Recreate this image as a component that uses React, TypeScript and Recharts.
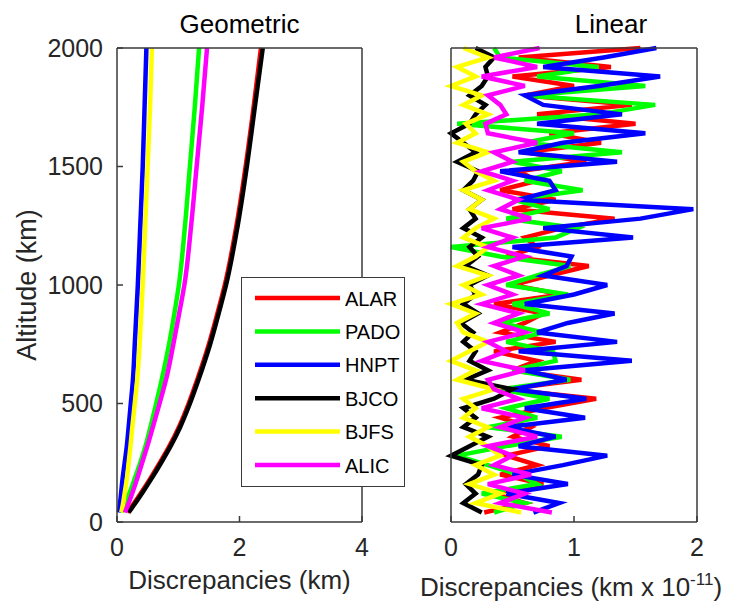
import React from 'react';
import { LineChart, Line, XAxis, YAxis, Legend, Label } from 'recharts';

const stations = ['ALAR', 'PADO', 'HNPT', 'BJCO', 'BJFS', 'ALIC'];
const stationColors = ['#ff0000', '#00ff00', '#0000ff', '#000000', '#ffff00', '#ff00ff'];

// Geometric panel (km)
const geoAltitudes = [40, 80, 130, 180, 250, 320, 400, 500, 600, 750, 900, 1000, 1250, 1500, 1750, 2000];
const geoALAR = [0.17, 0.28, 0.41, 0.535, 0.70, 0.855, 1.01, 1.17, 1.31, 1.50, 1.66, 1.76, 1.95, 2.10, 2.23, 2.35];
const geoPADO = [0.08, 0.14, 0.215, 0.285, 0.38, 0.465, 0.545, 0.64, 0.73, 0.85, 0.95, 1.01, 1.11, 1.19, 1.27, 1.34];
const geoHNPT = [0.03, 0.05, 0.07, 0.09, 0.125, 0.16, 0.19, 0.225, 0.26, 0.29, 0.32, 0.34, 0.38, 0.42, 0.45, 0.48];
const geoBJCO = [0.19, 0.30, 0.43, 0.555, 0.72, 0.875, 1.03, 1.19, 1.33, 1.52, 1.68, 1.78, 1.97, 2.12, 2.25, 2.38];
const geoBJFS = [0.07, 0.1, 0.13, 0.16, 0.19, 0.22, 0.25, 0.29, 0.33, 0.37, 0.4, 0.42, 0.46, 0.5, 0.54, 0.57];
const geoALIC = [0.13, 0.19, 0.26, 0.325, 0.41, 0.495, 0.585, 0.695, 0.8, 0.92, 1.03, 1.1, 1.21, 1.3, 1.39, 1.47];

// Linear panel (km x 1e-11)
const linAltitudes = [
  40, 80, 120, 160, 200, 240, 280, 320, 360, 400,
  440, 480, 520, 560, 600, 640, 680, 720, 760, 800,
  840, 880, 920, 960, 1000, 1040, 1080, 1120, 1160, 1200,
  1240, 1280, 1320, 1360, 1400, 1440, 1480, 1520, 1560, 1600,
  1640, 1680, 1720, 1760, 1800, 1840, 1880, 1920, 1960, 2000,
];
const linALAR = [
  0.27, 0.6, 0.35, 0.75, 0.4, 0.7, 0.45, 0.8, 0.5, 0.65,
  0.4, 0.75, 1.18, 0.45, 1.06, 0.5, 0.7, 0.35, 0.85, 0.4,
  0.6, 0.75, 0.35, 0.9, 0.5, 0.8, 1.12, 0.45, 0.7, 0.6,
  0.9, 1.33, 0.5, 0.85, 0.4, 0.7, 0.55, 1.1, 0.6, 1.22,
  0.8, 1.5, 0.7, 1.47, 0.6, 1.0, 0.5, 1.3, 0.55, 1.54,
];
const linPADO = [
  0.35, 0.6, 0.25, 0.7, 0.55, 0.3, 0.05, 0.45, 0.9, 0.3,
  0.7, 0.45, 0.8, 0.4, 0.97, 0.5, 0.85, 0.83, 0.45, 0.75,
  0.4, 0.8, 0.5, 0.95, 0.45, 0.7, 0.97, 0.4, 0.0, 0.85,
  1.03, 0.45, 0.8, 0.5, 1.07, 0.6, 0.9, 0.5, 1.39, 0.6,
  1.0, 0.05, 1.2, 1.66, 0.6, 1.58, 0.7, 1.2, 0.4, 0.35,
];
const linHNPT = [
  0.67, 0.88, 0.45, 0.95, 0.5, 0.91, 1.27, 0.55, 0.85, 0.45,
  1.09, 0.6, 1.1, 0.5, 0.94, 0.6, 1.47, 0.55, 1.35, 0.7,
  0.95, 1.33, 0.6, 1.0, 1.27, 0.75, 0.94, 0.98, 0.5, 1.48,
  0.75, 1.54, 1.97, 0.55, 0.85, 0.8, 0.4, 1.35, 0.55, 0.91,
  1.58, 0.7, 1.39, 0.75, 0.6, 1.2, 1.7, 0.75, 1.24, 1.67,
];
const linBJCO = [
  0.25, 0.1, 0.2, 0.12, 0.22, 0.25, 0.0, 0.15, 0.3, 0.1,
  0.2, 0.1, 0.35, 0.5, 0.12, 0.3, 0.15, 0.2, 0.1, 0.18,
  0.08, 0.22, 0.1, 0.2, 0.15, 0.3, 0.12, 0.22, 0.15, 0.25,
  0.1, 0.2, 0.15, 0.25, 0.1, 0.18, 0.22, 0.05, 0.2, 0.1,
  0.0, 0.15, 0.2, 0.28, 0.15, 0.25, 0.3, 0.28, 0.35, 0.2,
];
const linBJFS = [
  0.57, 0.2, 0.4, 0.15, 0.35, 0.2, 0.4, 0.3, 0.15, 0.3,
  0.1, 0.2, 0.1, 0.35, 0.05, 0.2, 0.0, 0.15, 0.3, 0.1,
  0.05, 0.2, 0.0, 0.25, 0.1, 0.3, 0.05, 0.2, 0.3, 0.1,
  0.2, 0.35, 0.15, 0.25, 0.1, 0.35, 0.2, 0.1, 0.3, 0.05,
  0.2, 0.12, 0.3, 0.1, 0.25, 0.0, 0.2, 0.05, 0.3, 0.1,
];
const linALIC = [
  0.82, 0.4, 0.6, 0.3, 0.65, 0.35, 0.5, 0.3, 0.7, 0.4,
  0.6, 0.25, 0.55, 0.35, 0.3, 0.6, 0.25, 0.45, 0.3, 0.6,
  0.35, 0.55, 0.25, 0.5, 0.3, 0.55, 0.35, 0.6, 0.3, 0.5,
  0.25, 0.65, 0.4, 0.55, 0.3, 0.5, 0.25, 0.5, 0.35, 0.7,
  0.3, 0.28, 0.45, 0.4, 0.3, 0.6, 0.25, 0.7, 0.35, 0.72,
];

const altTicks = [0, 500, 1000, 1500, 2000];
const geoTicks = [0, 2, 4];
const linTicks = [0, 1, 2];

const geoSeries = [geoALAR, geoPADO, geoHNPT, geoBJCO, geoBJFS, geoALIC];
const linSeries = [linALAR, linPADO, linHNPT, linBJCO, linBJFS, linALIC];

const buildRows = (alts: number[], series: number[][]) =>
  alts.map((alt, i) => {
    const row: Record<string, number> = { alt };
    stations.forEach((s, k) => {
      row[s] = series[k][i];
    });
    return row;
  });

const geoData = buildRows(geoAltitudes, geoSeries);
const linData = buildRows(linAltitudes, linSeries);

const FONT = '"Liberation Sans", Arial, Helvetica, sans-serif';
const AXIS = '#3a3a3a';
const TXT = '#262626';
const tickStyle = { fontSize: 25, fill: TXT, fontFamily: FONT };

const titleContent = (text: string, dx: number) => (props: any) => {
  const vb = props.viewBox;
  if (!vb) return null;
  return (
    <text x={vb.x + vb.width / 2 + dx} y={vb.y + vb.height - 15} textAnchor="middle" fontSize={26} fontFamily={FONT} fill="#000">
      {text}
    </text>
  );
};

const xLabelGeo = (props: any) => {
  const vb = props.viewBox;
  if (!vb) return null;
  return (
    <text x={vb.x + vb.width / 2} y={vb.y + 67} textAnchor="middle" fontSize={26} fontFamily={FONT} fill={TXT}>
      Discrepancies (km)
    </text>
  );
};

const xLabelLin = (props: any) => {
  const vb = props.viewBox;
  if (!vb) return null;
  return (
    <text x={vb.x + vb.width / 2 - 3} y={vb.y + 74} textAnchor="middle" fontSize={26} fontFamily={FONT} fill={TXT}>
      Discrepancies (km x 10
      <tspan dy={-11} fontSize={17}>-11</tspan>
      <tspan dy={11}>)</tspan>
    </text>
  );
};

const yLabel = (props: any) => {
  const vb = props.viewBox;
  if (!vb) return null;
  const x = vb.x + vb.width - 81;
  const y = vb.y + vb.height / 2;
  return (
    <text x={x} y={y} transform={`rotate(-90, ${x}, ${y})`} textAnchor="middle" fontSize={27} fontFamily={FONT} fill={TXT}>
      Altitude (km)
    </text>
  );
};

const renderLegend = () => (
  <div
    style={{
      width: 164,
      height: 210,
      border: `1.5px solid ${AXIS}`,
      background: '#fff',
      boxSizing: 'border-box',
    }}
  >
    <svg width={161} height={207} style={{ display: 'block' }}>
      {stations.map((s, i) => {
        const y = 20 + i * 33.4;
        return (
          <g key={s}>
            <line x1={13} x2={98} y1={y} y2={y} stroke={stationColors[i]} strokeWidth={4.5} />
            <text x={103} y={y + 7.5} fontSize={20} fontFamily={FONT} fill="#000">
              {s}
            </text>
          </g>
        );
      })}
    </svg>
  </div>
);

const axisLineProps = { stroke: AXIS, strokeWidth: 1.5 };
const tickLineProps = { stroke: AXIS, strokeWidth: 1.5 };

export default function App() {
  return (
    <div style={{ position: 'absolute', left: 0, top: 0, width: 734, height: 606, background: '#fff', overflow: 'hidden' }}>
      <div style={{ position: 'absolute', left: 0, top: 0 }}>
        <LineChart
          width={420}
          height={606}
          layout="vertical"
          data={geoData}
          margin={{ top: 7, right: 57, bottom: 4, left: 57 }}
        >
          <XAxis
            type="number"
            domain={[0, 4]}
            ticks={geoTicks}
            height={80}
            tickSize={-6}
            tickMargin={22}
            tick={tickStyle}
            axisLine={axisLineProps}
            tickLine={tickLineProps}
          >
            <Label content={xLabelGeo} />
          </XAxis>
          <XAxis
            xAxisId="t"
            orientation="top"
            type="number"
            domain={[0, 4]}
            ticks={geoTicks}
            height={41}
            tickSize={-6}
            tick={false}
            axisLine={axisLineProps}
            tickLine={tickLineProps}
          >
            <Label content={titleContent('Geometric', 0)} />
          </XAxis>
          <YAxis
            type="number"
            dataKey="alt"
            domain={[0, 2000]}
            ticks={altTicks}
            reversed
            width={60}
            tickSize={-6}
            tickMargin={20}
            tick={tickStyle}
            axisLine={axisLineProps}
            tickLine={tickLineProps}
          >
            <Label content={yLabel} />
          </YAxis>
          <YAxis
            yAxisId="r"
            orientation="right"
            type="number"
            domain={[0, 2000]}
            ticks={altTicks}
            reversed
            width={1}
            tickSize={-6}
            tick={false}
            axisLine={axisLineProps}
            tickLine={tickLineProps}
          />
          {stations.map((s, k) => (
            <Line
              key={s}
              dataKey={s}
              name={s}
              type="monotone"
              stroke={stationColors[k]}
              strokeWidth={4.5}
              dot={false}
              activeDot={false}
              isAnimationActive={false}
            />
          ))}
          <Legend
            layout="horizontal"
            verticalAlign="middle"
            align="center"
            content={renderLegend}
            wrapperStyle={{ position: 'absolute', left: 241, top: 277, width: 164, height: 210 }}
          />
        </LineChart>
      </div>
      <div style={{ position: 'absolute', left: 0, top: 0 }}>
        <LineChart
          width={734}
          height={606}
          layout="vertical"
          data={linData}
          margin={{ top: 7, right: 36, bottom: 4, left: 450 }}
        >
          <XAxis
            type="number"
            domain={[0, 2]}
            ticks={linTicks}
            height={80}
            tickSize={-6}
            tickMargin={22}
            tick={tickStyle}
            axisLine={axisLineProps}
            tickLine={tickLineProps}
          >
            <Label content={xLabelLin} />
          </XAxis>
          <XAxis
            xAxisId="t"
            orientation="top"
            type="number"
            domain={[0, 2]}
            ticks={linTicks}
            height={41}
            tickSize={-6}
            tick={false}
            axisLine={axisLineProps}
            tickLine={tickLineProps}
          >
            <Label content={titleContent('Linear', 37)} />
          </XAxis>
          <YAxis
            type="number"
            dataKey="alt"
            domain={[0, 2000]}
            ticks={altTicks}
            reversed
            width={1}
            tickSize={-6}
            tick={false}
            axisLine={axisLineProps}
            tickLine={tickLineProps}
          />
          <YAxis
            yAxisId="r"
            orientation="right"
            type="number"
            domain={[0, 2000]}
            ticks={altTicks}
            reversed
            width={1}
            tickSize={-6}
            tick={false}
            axisLine={axisLineProps}
            tickLine={tickLineProps}
          />
          {stations.map((s, k) => (
            <Line
              key={s}
              dataKey={s}
              name={s}
              type="linear"
              stroke={stationColors[k]}
              strokeWidth={4.5}
              dot={false}
              activeDot={false}
              isAnimationActive={false}
            />
          ))}
        </LineChart>
      </div>
    </div>
  );
}
